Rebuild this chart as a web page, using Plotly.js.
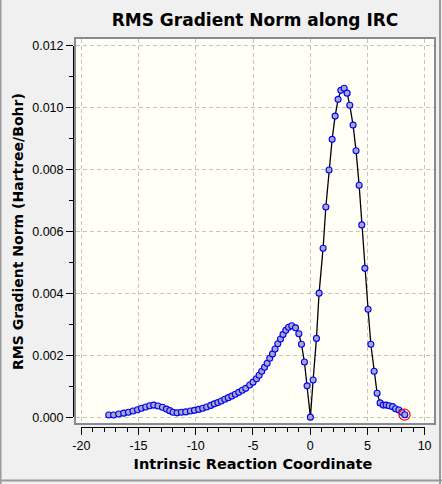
<!DOCTYPE html>
<html>
<head>
<meta charset="utf-8">
<script src="https://cdn.plot.ly/plotly-3.0.1.min.js"></script>
<style>
html,body{margin:0;padding:0;background:#F0F0F0;}
#chart{width:442px;height:484px;}
</style>
</head>
<body>
<div id="chart"></div>
<script>
// Reaction coordinate (x) and RMS gradient norm (y)
var ircCoord = [
  -17.62,-17.19,-16.75,-16.31,-15.90,-15.50,-15.11,-14.76,-14.39,-14.04,
  -13.69,-13.31,-12.93,-12.58,-12.29,-12.00,-11.65,-11.27,-10.89,-10.48,
  -10.13,-9.76,-9.41,-9.06,-8.71,-8.40,-8.09,-7.79,-7.48,-7.18,
  -6.87,-6.56,-6.26,-5.95,-5.65,-5.30,-5.01,-4.71,-4.48,-4.25,
  -4.01,-3.78,-3.55,-3.31,-3.09,-2.85,-2.61,-2.39,-2.15,-1.91,
  -1.63,-1.30,-1.01,-0.78,-0.52,-0.29,0.00,0.24,0.53,0.76,
  1.11,1.35,1.63,1.90,2.16,2.42,2.66,2.95,3.21,3.44,
  3.73,3.99,4.26,4.49,4.76,5.04,5.28,5.57,5.83,6.09,
  6.36,6.62,6.88,7.18,7.44,7.73,7.99,8.25
];
var rmsGrad = [
  0.00008,0.00008,0.00011,0.00014,0.00017,0.00021,0.00025,0.00030,0.00034,0.00038,
  0.00040,0.00037,0.00033,0.00027,0.00022,0.00017,0.00015,0.00017,0.00018,0.00021,
  0.00023,0.00026,0.00030,0.00034,0.00039,0.00044,0.00048,0.00053,0.00059,0.00064,
  0.00069,0.00075,0.00081,0.00088,0.00094,0.00105,0.00114,0.00125,0.00136,0.00149,
  0.00162,0.00175,0.00191,0.00205,0.00221,0.00238,0.00253,0.00268,0.00281,0.00291,
  0.00296,0.00289,0.00270,0.00236,0.00179,0.00102,0.00001,0.00121,0.00255,0.00401,
  0.00546,0.00679,0.00798,0.00897,0.00972,0.01026,0.01055,0.01062,0.01046,0.01007,
  0.00943,0.00860,0.00749,0.00621,0.00481,0.00349,0.00236,0.00149,0.00078,0.00047,
  0.00040,0.00040,0.00038,0.00035,0.00028,0.00024,0.00017,0.00009
];
var xTickVals = [-20,-15,-10,-5,0,5,10];
var yTickVals = [0.000,0.002,0.004,0.006,0.008,0.010,0.012];
var yTickText = ["0.000","0.002","0.004","0.006","0.008","0.010","0.012"];

var lastIdx = ircCoord.length - 1;

var traces = [
  {
    x: ircCoord, y: rmsGrad, type: 'scatter', mode: 'lines+markers',
    line: {color: '#000000', width: 1.3},
    marker: {size: 6, color: '#A8A8BE', line: {color: '#0000FF', width: 1.1}},
    hoverinfo: 'skip'
  },
  {
    // final IRC point highlighted; drawn on the ticked axes (same pixel scale)
    x: [ircCoord[lastIdx]], y: [rmsGrad[lastIdx]], type: 'scatter', mode: 'markers',
    xaxis: 'x2', yaxis: 'y2', cliponaxis: false,
    marker: {size: 11, symbol: 'circle-open', color: '#FF0000', line: {color: '#FF0000', width: 1.2}},
    hoverinfo: 'skip'
  }
];

var fontFam = '"Liberation Sans", Arial, sans-serif';
var boldFam = '"DejaVu Sans", Verdana, sans-serif';

var layout = {
  width: 442, height: 484,
  margin: {l: 73, r: 8, t: 39, b: 57, pad: 0},
  paper_bgcolor: '#F0F0F0',
  plot_bgcolor: 'rgba(0,0,0,0)',
  showlegend: false,
  font: {family: fontFam, size: 12, color: '#000000'},
  title: {
    text: '<b>RMS Gradient Norm along IRC</b>',
    font: {family: boldFam, size: 17, color: '#000000'},
    xref: 'container', x: 0.577, xanchor: 'center',
    yref: 'container', y: 0.958, yanchor: 'middle'
  },
  xaxis: {
    domain: [0.0083, 1],
    range: [-20.48, 10.80],
    tickvals: xTickVals, showticklabels: false, ticks: '',
    showgrid: true, gridcolor: '#C4C4C4', gridwidth: 1, griddash: '4px,3px',
    zeroline: false,
    showline: true, mirror: true, linecolor: '#8A8A94', linewidth: 2
  },
  yaxis: {
    domain: [0.0111, 1],
    range: [-0.000168, 0.012206],
    tickvals: yTickVals, showticklabels: false, ticks: '',
    showgrid: true, gridcolor: '#C4C4C4', gridwidth: 1, griddash: '4px,3px',
    zeroline: false,
    showline: true, mirror: true, linecolor: '#8A8A94', linewidth: 2
  },
  xaxis2: {
    anchor: 'free', position: 0,
    domain: [0.0230, 0.9740],
    range: [-20, 10],
    tickvals: xTickVals, ticktext: xTickVals.map(String),
    ticks: 'outside', ticklen: 7, tickwidth: 1, tickcolor: '#000000',
    minor: {dtick: 1, tick0: 0, ticks: 'outside', ticklen: 4, tickwidth: 1, tickcolor: '#000000', showgrid: false},
    showline: true, linecolor: '#000000', linewidth: 1,
    showgrid: false, zeroline: false,
    tickfont: {family: fontFam, size: 12.5, color: '#000000'},
    title: {text: '<b>Intrinsic Reaction Coordinate</b>', font: {family: boldFam, size: 14.5, color: '#000000'}, standoff: 6}
  },
  yaxis2: {
    anchor: 'free', position: 0,
    domain: [0.0245, 0.9827],
    range: [0, 0.012],
    tickvals: yTickVals, ticktext: yTickText,
    ticks: 'outside', ticklen: 7, tickwidth: 1, tickcolor: '#000000',
    minor: {dtick: 0.001, tick0: 0, ticks: 'outside', ticklen: 4, tickwidth: 1, tickcolor: '#000000', showgrid: false},
    showline: true, linecolor: '#000000', linewidth: 1,
    showgrid: false, zeroline: false,
    tickfont: {family: fontFam, size: 12.5, color: '#000000'},
    title: {text: '<b>RMS Gradient Norm (Hartree/Bohr)</b>', font: {family: boldFam, size: 14, color: '#000000'}, standoff: 4}
  },
  shapes: [
    {type: 'rect', xref: 'x domain', yref: 'y domain', x0: 0, x1: 1, y0: 0, y1: 1, layer: 'below', fillcolor: '#FFFFF5', line: {width: 0}},
    {type: 'line', xref: 'paper', yref: 'paper', x0: -0.2008, x1: -0.2008, y0: -0.15, y1: 1.2, line: {color: '#9A9A9A', width: 2}},
    {type: 'line', xref: 'paper', yref: 'paper', x0: 1.0166, x1: 1.0166, y0: -0.15, y1: 1.2, line: {color: '#9A9A9A', width: 2}},
    {type: 'line', xref: 'paper', yref: 'paper', x0: -0.25, x1: 1.1, y0: -0.1379, y1: -0.1379, line: {color: '#9A9A9A', width: 2}}
  ]
};

Plotly.newPlot('chart', traces, layout, {staticPlot: true, displayModeBar: false});
</script>
</body>
</html>
